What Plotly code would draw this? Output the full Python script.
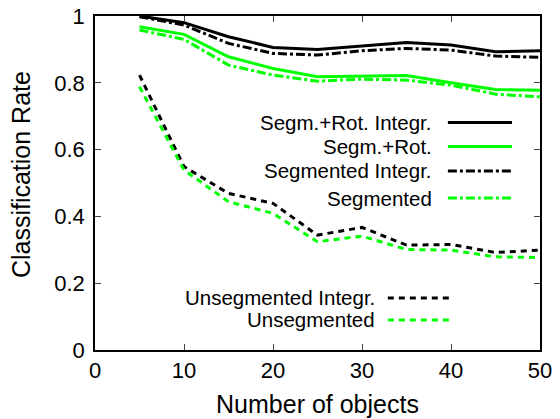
import plotly.graph_objects as go

# ---- data ----
n_objects = [5, 10, 15, 20, 25, 30, 35, 40, 45, 50]
segrot_integr = [1.0, 0.98, 0.938, 0.906, 0.90, 0.911, 0.921, 0.913, 0.893, 0.896]
segrot = [0.968, 0.945, 0.878, 0.843, 0.818, 0.820, 0.822, 0.800, 0.780, 0.778]
segmented_integr = [0.998, 0.973, 0.918, 0.888, 0.883, 0.896, 0.903, 0.898, 0.880, 0.876]
segmented = [0.958, 0.930, 0.853, 0.823, 0.805, 0.811, 0.808, 0.793, 0.766, 0.758]
unseg_integr = [0.823, 0.549, 0.469, 0.439, 0.344, 0.367, 0.314, 0.316, 0.292, 0.299]
unseg = [0.788, 0.539, 0.444, 0.409, 0.324, 0.341, 0.301, 0.299, 0.279, 0.277]

labels = ["Segm.+Rot. Integr.", "Segm.+Rot.", "Segmented Integr.", "Segmented",
          "Unsegmented Integr.", "Unsegmented"]
x_ticks = [0, 10, 20, 30, 40, 50]
y_ticks = [0, 0.2, 0.4, 0.6, 0.8, 1]

BLACK = "#000000"
GREEN = "#00ff00"
DASHDOT = "9px,3px,3px,3px"
DASH = "6px,5px"

series = [
    (segrot_integr, BLACK, "solid"),
    (segrot, GREEN, "solid"),
    (segmented_integr, BLACK, DASHDOT),
    (segmented, GREEN, DASHDOT),
    (unseg_integr, BLACK, DASH),
    (unseg, GREEN, DASH),
]

fig = go.Figure()
for (vals, col, dash), name in zip(series, labels):
    fig.add_trace(go.Scatter(x=n_objects, y=vals, mode="lines", name=name,
                             line=dict(color=col, width=3, dash=dash),
                             showlegend=False))

FONT = "Liberation Sans, Arial, sans-serif"

# gnuplot-style legends: text right-aligned, sample on the right
legend_rows = [
    # text right x, sample x0, sample x1, y (paper)
    (0.762, 0.793, 0.937, 0.681),
    (0.762, 0.793, 0.937, 0.609),
    (0.762, 0.793, 0.937, 0.536),
    (0.762, 0.793, 0.937, 0.455),
    (0.633, 0.658, 0.804, 0.156),
    (0.633, 0.658, 0.804, 0.090),
]
annotations = []
shapes = []
for (vals, col, dash), name, (tx, sx0, sx1, yy) in zip(series, labels, legend_rows):
    annotations.append(dict(x=tx, y=yy, xref="paper", yref="paper", text=name,
                            showarrow=False, xanchor="right", yanchor="middle",
                            font=dict(size=20.5, color="#000000", family=FONT)))
    shapes.append(dict(type="line", xref="paper", yref="paper", x0=sx0, x1=sx1,
                       y0=yy, y1=yy, line=dict(color=col, width=3, dash=dash)))

# y-axis title (placed as in the reference, slightly above the plot centre)
annotations.append(dict(x=-0.166, y=0.524, xref="paper", yref="paper",
                        text="Classification Rate", textangle=-90, showarrow=False,
                        xanchor="center", yanchor="middle",
                        font=dict(size=25, color="#000000", family=FONT)))

fig.update_layout(
    width=560, height=419,
    margin=dict(l=95, r=20, t=16, b=69, autoexpand=False),
    paper_bgcolor="white", plot_bgcolor="white",
    font=dict(family=FONT, size=22, color="#000000"),
    annotations=annotations, shapes=shapes,
)
fig.update_xaxes(range=[0, 50], tickvals=x_ticks, ticks="inside", ticklen=6,
                 showline=True, linecolor="black", linewidth=1.5, mirror="allticks",
                 showgrid=False, zeroline=False, automargin=False,
                 ticklabeloverflow="allow",
                 title=dict(text="Number of objects", standoff=13, font=dict(size=25)),
                 tickfont=dict(size=22))
fig.update_yaxes(range=[0, 1], tickvals=y_ticks, ticks="inside", ticklen=6,
                 showline=True, linecolor="black", linewidth=1.5, mirror="allticks",
                 showgrid=False, zeroline=False, automargin=False,
                 ticklabelstandoff=4, ticklabeloverflow="allow",
                 tickfont=dict(size=22))

fig.write_html("out.html",
               config={"displayModeBar": False},
               post_script="document.body.style.margin='0px';"
                           "document.documentElement.style.margin='0px';")
